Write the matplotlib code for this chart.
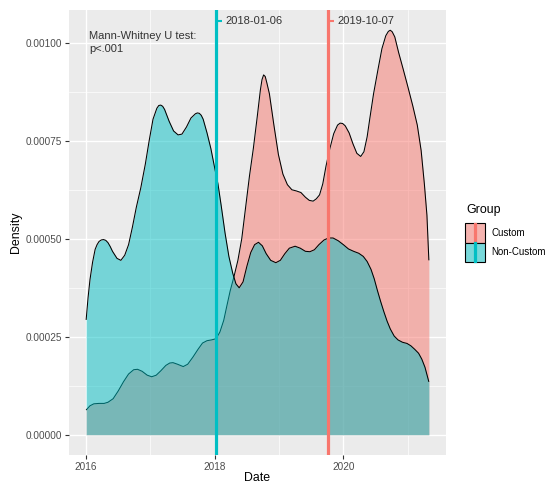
import matplotlib
matplotlib.use("Agg")
import matplotlib.pyplot as plt
from matplotlib.patches import Rectangle
from matplotlib.lines import Line2D

plt.rcParams['font.family'] = ['Liberation Sans', 'DejaVu Sans']

# ---------------- data ----------------
SCALE = 1e-4  # values below are density x 10^-4

custom_year = [
    2016.00, 2016.06, 2016.12, 2016.20, 2016.28, 2016.34, 2016.42, 2016.50, 2016.58, 2016.66,
    2016.74, 2016.80, 2016.87, 2016.95, 2017.02, 2017.09, 2017.16, 2017.24, 2017.30, 2017.35,
    2017.42, 2017.51, 2017.58, 2017.66, 2017.74, 2017.81, 2017.88, 2017.95, 2018.02, 2018.08,
    2018.14, 2018.19, 2018.24, 2018.30, 2018.36, 2018.42, 2018.48, 2018.54, 2018.60, 2018.66,
    2018.71, 2018.735, 2018.76, 2018.785, 2018.81, 2018.85, 2018.92, 2018.99, 2019.06, 2019.13,
    2019.20, 2019.27, 2019.34, 2019.41, 2019.47, 2019.53, 2019.58, 2019.63, 2019.68, 2019.73,
    2019.79, 2019.85, 2019.91, 2019.95, 2019.99, 2020.03, 2020.09, 2020.15, 2020.21, 2020.27,
    2020.32, 2020.37, 2020.41, 2020.47, 2020.54, 2020.60, 2020.66, 2020.70, 2020.73, 2020.76,
    2020.80, 2020.86, 2020.93, 2021.00, 2021.08, 2021.15, 2021.21, 2021.26, 2021.30, 2021.33]
custom_density = [
    0.63, 0.74, 0.79, 0.80, 0.80, 0.83, 0.92, 1.12, 1.35, 1.55,
    1.66, 1.67, 1.62, 1.52, 1.48, 1.52, 1.63, 1.77, 1.83, 1.84,
    1.80, 1.74, 1.80, 1.98, 2.18, 2.34, 2.40, 2.42, 2.45, 2.62,
    2.92, 3.30, 3.67, 4.04, 4.45, 5.00, 5.80, 6.60, 7.30, 8.10,
    8.80, 9.06, 9.18, 9.14, 8.98, 8.70, 7.90, 7.15, 6.65, 6.38,
    6.25, 6.22, 6.18, 6.06, 5.98, 5.96, 6.02, 6.12, 6.40, 6.85,
    7.30, 7.68, 7.90, 7.95, 7.94, 7.88, 7.70, 7.42, 7.18, 7.10,
    7.22, 7.60, 8.05, 8.70, 9.33, 9.85, 10.18, 10.29, 10.32, 10.28,
    10.15, 9.75, 9.33, 8.90, 8.39, 7.90, 7.25, 6.40, 5.60, 4.45]

noncustom_year = [
    2016.00, 2016.03, 2016.06, 2016.10, 2016.14, 2016.17, 2016.20, 2016.235, 2016.27, 2016.305,
    2016.34, 2016.375, 2016.41, 2016.48, 2016.54, 2016.60, 2016.66, 2016.72, 2016.78, 2016.85,
    2016.92, 2016.98, 2017.04, 2017.10, 2017.13, 2017.16, 2017.19, 2017.22, 2017.29, 2017.36,
    2017.43, 2017.49, 2017.56, 2017.63, 2017.70, 2017.73, 2017.76, 2017.79, 2017.82, 2017.88,
    2017.94, 2018.00, 2018.05, 2018.10, 2018.16, 2018.22, 2018.28, 2018.33, 2018.38, 2018.44,
    2018.50, 2018.56, 2018.62, 2018.68, 2018.74, 2018.80, 2018.87, 2018.95, 2019.02, 2019.09,
    2019.16, 2019.25, 2019.33, 2019.41, 2019.48, 2019.55, 2019.62, 2019.70, 2019.77, 2019.84,
    2019.92, 2020.00, 2020.08, 2020.16, 2020.24, 2020.31, 2020.37, 2020.43, 2020.48, 2020.53,
    2020.58, 2020.63, 2020.68, 2020.73, 2020.79, 2020.85, 2020.92, 2020.99, 2021.05, 2021.11,
    2021.17, 2021.22, 2021.27, 2021.33]
noncustom_density = [
    2.93, 3.50, 3.96, 4.40, 4.73, 4.85, 4.93, 4.97, 4.98, 4.96,
    4.90, 4.80, 4.68, 4.50, 4.45, 4.58, 4.85, 5.30, 5.80, 6.30,
    6.90, 7.50, 8.05, 8.33, 8.40, 8.41, 8.38, 8.30, 8.00, 7.75,
    7.65, 7.67, 7.85, 8.08, 8.19, 8.21, 8.20, 8.15, 8.05, 7.70,
    7.30, 6.80, 6.40, 5.85, 5.15, 4.55, 4.12, 3.85, 3.75, 3.90,
    4.30, 4.65, 4.85, 4.91, 4.82, 4.62, 4.45, 4.39, 4.45, 4.62,
    4.76, 4.81, 4.76, 4.68, 4.67, 4.72, 4.85, 4.97, 5.02, 5.02,
    4.95, 4.85, 4.74, 4.68, 4.63, 4.55, 4.42, 4.22, 3.98, 3.68,
    3.40, 3.14, 2.90, 2.70, 2.52, 2.42, 2.36, 2.33, 2.27, 2.18,
    2.08, 1.93, 1.72, 1.35]

groups = ['Custom', 'Non-Custom']
group_colors = ['#F8766D', '#00BFC4']
median_year = [2019.767, 2018.015]          # 2019-10-07, 2018-01-06
median_label = ['2019-10-07', '2018-01-06']
label_density = 10.55                        # x 10^-4

x_ticks = [2016, 2018, 2020]
x_minor = [2017, 2019, 2021]
y_ticks = [0.0, 0.00025, 0.00050, 0.00075, 0.00100]
y_minor = [0.000125, 0.000375, 0.000625, 0.000875]
annotation = "Mann-Whitney U test:\np<.001"

# ---------------- figure ----------------
W, H = 550, 484
fig = plt.figure(figsize=(W / 100, H / 100), dpi=100)
fig.patch.set_facecolor('white')
ax = fig.add_axes([69 / W, 1 - 455 / H, (446 - 69) / W, (455 - 10) / H])
ax.set_facecolor('#EBEBEB')
for s in ax.spines.values():
    s.set_visible(False)

series = [(custom_year, custom_density), (noncustom_year, noncustom_density)]
for (xs, ys), col in zip(series, group_colors):
    yv = [v * SCALE for v in ys]
    ax.fill_between(xs, yv, 0, color=col, alpha=0.5, lw=0, zorder=2)
    ax.plot(xs, yv, color='black', lw=0.75, zorder=2, solid_capstyle='butt',
            solid_joinstyle='round')

# scales with ggplot-like expansion
xmin = min(custom_year + noncustom_year)
xmax = max(custom_year + noncustom_year)
ymax = max(custom_density + noncustom_density) * SCALE
xr = xmax - xmin
ax.set_xlim(xmin - 0.05 * xr, xmax + 0.05 * xr)
ax.set_ylim(-0.05 * ymax, ymax * 1.05)

# median lines and labels
for yr, lab, col in zip(median_year, median_label, group_colors):
    ax.axvline(yr, color=col, lw=2.3, zorder=4)
    ax.plot([yr, yr + 0.095], [label_density * SCALE] * 2, color=col, lw=1.5, zorder=4,
            solid_capstyle='butt')
    ax.annotate(lab, xy=(yr, label_density * SCALE), xytext=(6.8, 0),
                textcoords='offset points', ha='left', va='center',
                fontsize=8.0, color='#333333', zorder=5)

ax.text(2016.047, 0.001031, annotation, ha='left', va='top', fontsize=8.0,
        color='#333333', linespacing=1.45, zorder=5)

# ticks & grid
ax.set_xticks(x_ticks)
ax.set_xticklabels([str(t) for t in x_ticks])
ax.set_xticks(x_minor, minor=True)
ax.set_yticks(y_ticks)
ax.set_yticklabels([f"{v:.5f}" for v in y_ticks])
ax.set_yticks(y_minor, minor=True)
ax.set_axisbelow(True)
ax.grid(which='major', color='white', lw=1.0, zorder=0)
ax.grid(which='minor', color='white', lw=0.5, zorder=0)
ax.tick_params(which='major', length=2.9, width=0.8, color='#333333',
               labelcolor='#4D4D4D', labelsize=7.2, pad=2)
ax.tick_params(which='minor', length=0)

fig.text(257 / W, 1 - 478 / H, 'Date', ha='center', va='center', fontsize=8.9, color='black')
fig.text(16 / W, 1 - 232 / H, 'Density', ha='center', va='center', rotation=90,
         fontsize=8.9, color='black')

# legend (drawn by hand, ggplot style)
def fx(px):
    return px / W

def fy(py):
    return 1 - py / H

fig.text(fx(466.5), fy(210), 'Group', ha='left', va='center', fontsize=8.9, color='black')
key_top = [223.3, 242.6]
key_h = 19.3
for i, (g, col) in enumerate(zip(groups, group_colors)):
    t = key_top[i]
    fig.add_artist(Rectangle((fx(465), fy(t + key_h)), fx(485) - fx(465), fy(t) - fy(t + key_h),
                             transform=fig.transFigure, facecolor='#F2F2F2', edgecolor='none'))
    fig.add_artist(Rectangle((fx(465), fy(t + key_h)), fx(485) - fx(465), fy(t) - fy(t + key_h),
                             transform=fig.transFigure, facecolor=col, alpha=0.5, edgecolor='none'))
    fig.add_artist(Line2D([fx(475), fx(475)], [fy(t + key_h - 0.7), fy(t + 0.7)],
                          transform=fig.transFigure, color=col, lw=2.3))
    fig.add_artist(Rectangle((fx(465), fy(t + key_h)), fx(485) - fx(465), fy(t) - fy(t + key_h),
                             transform=fig.transFigure, facecolor='none', edgecolor='black', lw=0.8))
    fig.text(fx(491.5), fy(t + key_h / 2), g, ha='left', va='center', fontsize=7.0, color='black')

fig.savefig('out.png', dpi=100)
